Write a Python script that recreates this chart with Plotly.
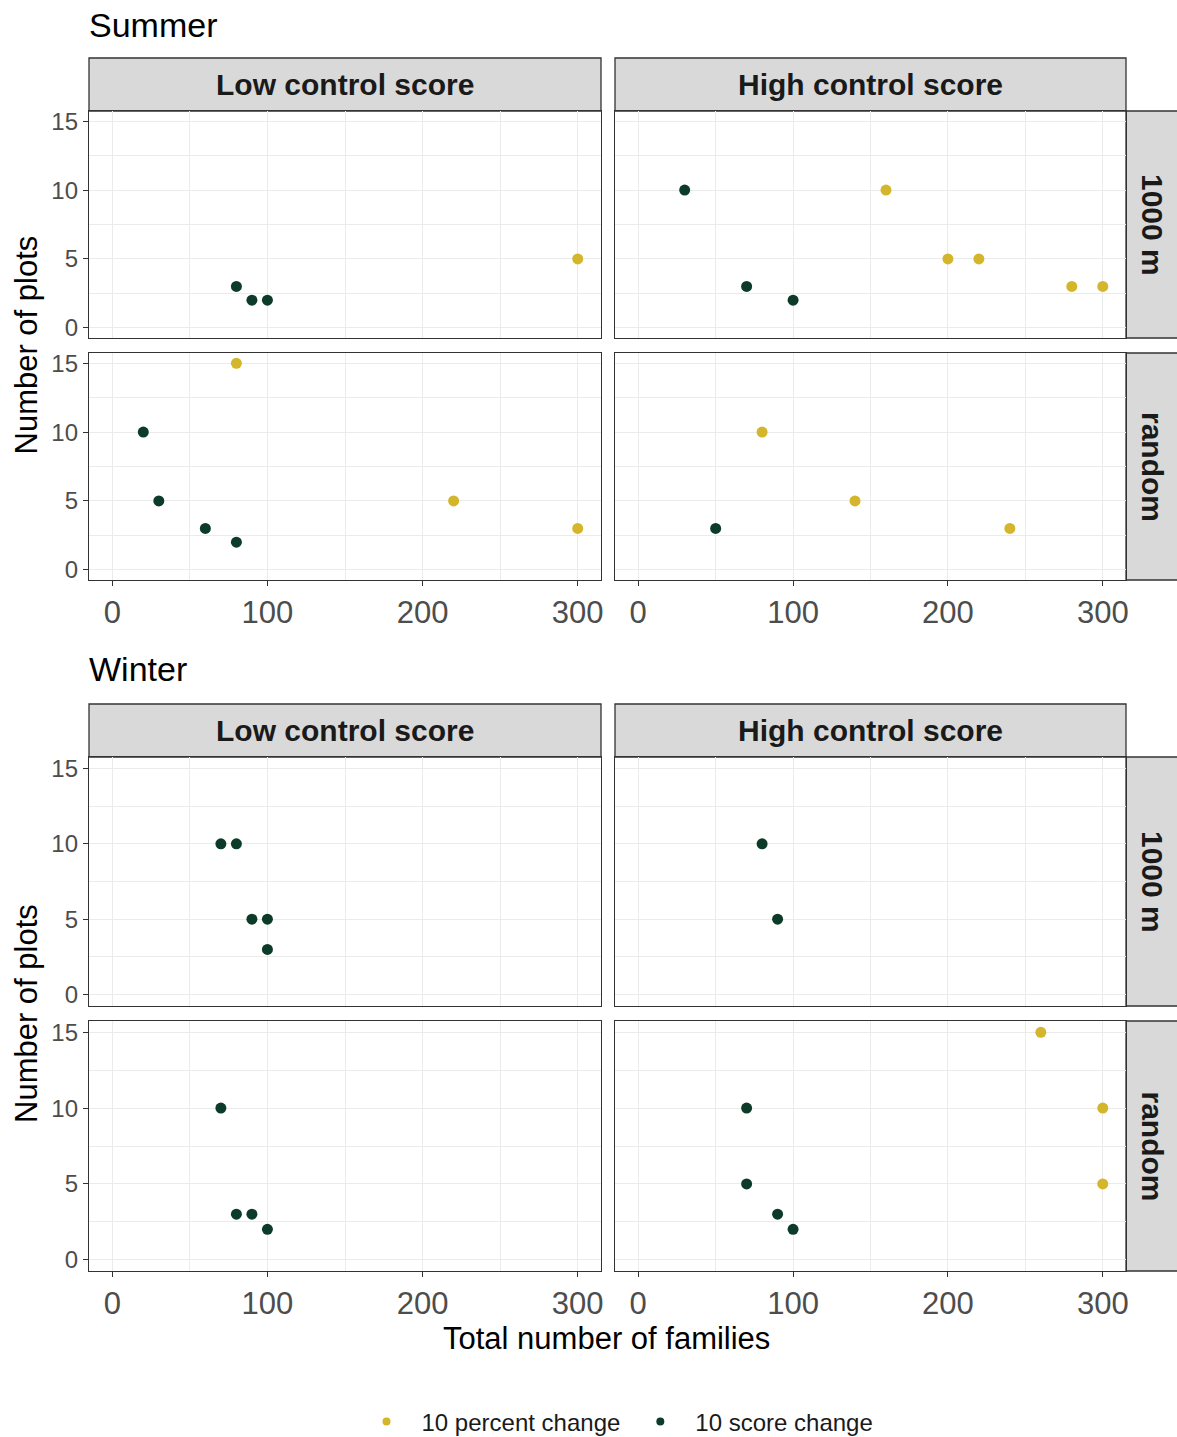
import plotly.graph_objects as go

# ---------------- data ----------------
SERIES = ["10 percent change", "10 score change"]
COLORS = {"10 percent change": "#d3b62c", "10 score change": "#0c3b29"}
SEASONS = ["Summer", "Winter"]
COL_LABELS = ["Low control score", "High control score"]
ROW_LABELS = ["1000 m", "random"]
X_TICKS = [0, 100, 200, 300]
Y_TICKS = [0, 5, 10, 15]

# Summer
S_LOW_1000_PCT_X = [300]
S_LOW_1000_PCT_Y = [5]
S_LOW_1000_SCORE_X = [80, 90, 100]
S_LOW_1000_SCORE_Y = [3, 2, 2]
S_HIGH_1000_PCT_X = [160, 200, 220, 280, 300]
S_HIGH_1000_PCT_Y = [10, 5, 5, 3, 3]
S_HIGH_1000_SCORE_X = [30, 70, 100]
S_HIGH_1000_SCORE_Y = [10, 3, 2]
S_LOW_RAND_PCT_X = [80, 220, 300]
S_LOW_RAND_PCT_Y = [15, 5, 3]
S_LOW_RAND_SCORE_X = [20, 30, 60, 80]
S_LOW_RAND_SCORE_Y = [10, 5, 3, 2]
S_HIGH_RAND_PCT_X = [80, 140, 240]
S_HIGH_RAND_PCT_Y = [10, 5, 3]
S_HIGH_RAND_SCORE_X = [50]
S_HIGH_RAND_SCORE_Y = [3]

# Winter
W_LOW_1000_PCT_X = []
W_LOW_1000_PCT_Y = []
W_LOW_1000_SCORE_X = [70, 80, 90, 100, 100]
W_LOW_1000_SCORE_Y = [10, 10, 5, 5, 3]
W_HIGH_1000_PCT_X = []
W_HIGH_1000_PCT_Y = []
W_HIGH_1000_SCORE_X = [80, 90]
W_HIGH_1000_SCORE_Y = [10, 5]
W_LOW_RAND_PCT_X = []
W_LOW_RAND_PCT_Y = []
W_LOW_RAND_SCORE_X = [70, 80, 90, 100]
W_LOW_RAND_SCORE_Y = [10, 3, 3, 2]
W_HIGH_RAND_PCT_X = [260, 300, 300]
W_HIGH_RAND_PCT_Y = [15, 10, 5]
W_HIGH_RAND_SCORE_X = [70, 70, 90, 100]
W_HIGH_RAND_SCORE_Y = [10, 5, 3, 2]

PANELS = {
    ("Summer", 0, 0): [(S_LOW_1000_PCT_X, S_LOW_1000_PCT_Y), (S_LOW_1000_SCORE_X, S_LOW_1000_SCORE_Y)],
    ("Summer", 0, 1): [(S_HIGH_1000_PCT_X, S_HIGH_1000_PCT_Y), (S_HIGH_1000_SCORE_X, S_HIGH_1000_SCORE_Y)],
    ("Summer", 1, 0): [(S_LOW_RAND_PCT_X, S_LOW_RAND_PCT_Y), (S_LOW_RAND_SCORE_X, S_LOW_RAND_SCORE_Y)],
    ("Summer", 1, 1): [(S_HIGH_RAND_PCT_X, S_HIGH_RAND_PCT_Y), (S_HIGH_RAND_SCORE_X, S_HIGH_RAND_SCORE_Y)],
    ("Winter", 0, 0): [(W_LOW_1000_PCT_X, W_LOW_1000_PCT_Y), (W_LOW_1000_SCORE_X, W_LOW_1000_SCORE_Y)],
    ("Winter", 0, 1): [(W_HIGH_1000_PCT_X, W_HIGH_1000_PCT_Y), (W_HIGH_1000_SCORE_X, W_HIGH_1000_SCORE_Y)],
    ("Winter", 1, 0): [(W_LOW_RAND_PCT_X, W_LOW_RAND_PCT_Y), (W_LOW_RAND_SCORE_X, W_LOW_RAND_SCORE_Y)],
    ("Winter", 1, 1): [(W_HIGH_RAND_PCT_X, W_HIGH_RAND_PCT_Y), (W_HIGH_RAND_SCORE_X, W_HIGH_RAND_SCORE_Y)],
}

# ---------------- layout geometry (pixels) ----------------
W, H = 1177, 1437
COL_X = [(89, 601), (615, 1126)]
STRIP_R = (1126, 1177)
BLOCKS = {
    "Summer": {"title_y": 25, "strip": (58, 111), "rows": [(111, 338), (353, 580)]},
    "Winter": {"title_y": 669, "strip": (704, 757), "rows": [(757, 1006), (1021, 1271)]},
}
FONT = "Liberation Sans, Arial, sans-serif"
BORDER = "#333333"
GRID = "#ebebeb"
STRIP_FILL = "#d9d9d9"


def px(x):
    return x / W


def py(y):
    return 1 - y / H


fig = go.Figure()
layout = dict(
    width=W, height=H, autosize=False,
    margin=dict(l=0, r=0, t=0, b=0, autoexpand=False),
    paper_bgcolor="white", plot_bgcolor="white",
    font=dict(family=FONT),
    showlegend=True,
)
shapes = []
annotations = []

idx = 0
for season in SEASONS:
    blk = BLOCKS[season]
    for r in range(2):
        for c in range(2):
            idx += 1
            xa = "xaxis" if idx == 1 else f"xaxis{idx}"
            ya = "yaxis" if idx == 1 else f"yaxis{idx}"
            xr = "x" if idx == 1 else f"x{idx}"
            yr = "y" if idx == 1 else f"y{idx}"
            x0, x1 = COL_X[c]
            y0, y1 = blk["rows"][r]
            bottom = r == 1
            left = c == 0
            layout[xa] = dict(
                domain=[px(x0), px(x1)], anchor=yr, range=[-15, 315],
                tickvals=X_TICKS, ticktext=[str(v) for v in X_TICKS],
                showticklabels=bottom, ticks="outside" if bottom else "",
                ticklen=5, tickwidth=1.2, tickcolor=BORDER,
                tickfont=dict(size=31, color="#4d4d4d", family=FONT),
                showgrid=True, gridcolor=GRID, gridwidth=1.2,
                minor=dict(tickvals=[50, 150, 250], showgrid=True, gridcolor=GRID, gridwidth=0.6),
                showline=True, mirror=True, linecolor=BORDER, linewidth=1.3,
                zeroline=False, fixedrange=True, automargin=False,
            )
            layout[ya] = dict(
                domain=[py(y1), py(y0)], anchor=xr, range=[-0.75, 15.75],
                tickvals=Y_TICKS, ticktext=[str(v) for v in Y_TICKS],
                showticklabels=left, ticks="outside" if left else "",
                ticklen=5, tickwidth=1.2, tickcolor=BORDER,
                tickfont=dict(size=24, color="#4d4d4d", family=FONT),
                showgrid=True, gridcolor=GRID, gridwidth=1.2,
                minor=dict(tickvals=[2.5, 7.5, 12.5], showgrid=True, gridcolor=GRID, gridwidth=0.6),
                showline=True, mirror=True, linecolor=BORDER, linewidth=1.3,
                zeroline=False, fixedrange=True, automargin=False,
            )
            for name, (xs, ys) in zip(SERIES, PANELS[(season, r, c)]):
                fig.add_trace(go.Scatter(
                    x=xs, y=ys, mode="markers", xaxis=xr, yaxis=yr,
                    marker=dict(size=11, color=COLORS[name]),
                    name=name, showlegend=False, hoverinfo="x+y",
                ))
    # column strips
    s0, s1 = blk["strip"]
    for c, lab in enumerate(COL_LABELS):
        x0, x1 = COL_X[c]
        shapes.append(dict(type="rect", xref="paper", yref="paper",
                           x0=px(x0), x1=px(x1), y0=py(s1), y1=py(s0),
                           fillcolor=STRIP_FILL, line=dict(color=BORDER, width=1.3), layer="below"))
        annotations.append(dict(text=f"<b>{lab}</b>", xref="paper", yref="paper",
                                x=px((x0 + x1) / 2), y=py((s0 + s1) / 2),
                                xanchor="center", yanchor="middle", showarrow=False,
                                font=dict(size=30, color="#1a1a1a", family=FONT)))
    # row strips
    for r, lab in enumerate(ROW_LABELS):
        y0, y1 = blk["rows"][r]
        shapes.append(dict(type="rect", xref="paper", yref="paper",
                           x0=px(STRIP_R[0]), x1=px(STRIP_R[1]) + 0.01, y0=py(y1), y1=py(y0),
                           fillcolor=STRIP_FILL, line=dict(color=BORDER, width=1.3), layer="below"))
        annotations.append(dict(text=f"<b>{lab}</b>", xref="paper", yref="paper",
                                x=px((STRIP_R[0] + STRIP_R[1]) / 2 + 1), y=py((y0 + y1) / 2),
                                xanchor="center", yanchor="middle", showarrow=False, textangle=90,
                                font=dict(size=30, color="#1a1a1a", family=FONT)))
    # season title
    annotations.append(dict(text=season, xref="paper", yref="paper",
                            x=px(87), y=py(blk["title_y"]), xanchor="left", yanchor="middle",
                            showarrow=False, font=dict(size=34, color="black", family=FONT)))
    # y title
    rows = blk["rows"]
    annotations.append(dict(text="Number of plots", xref="paper", yref="paper",
                            x=px(26), y=py((rows[0][0] + rows[1][1]) / 2),
                            xanchor="center", yanchor="middle", showarrow=False, textangle=-90,
                            font=dict(size=31, color="black", family=FONT)))

# x title
annotations.append(dict(text="Total number of families", xref="paper", yref="paper",
                        x=px(606), y=py(1338), xanchor="center", yanchor="middle",
                        showarrow=False, font=dict(size=31, color="black", family=FONT)))

# legend entries
for name in SERIES:
    fig.add_trace(go.Scatter(x=[None], y=[None], mode="markers", name=name,
                             marker=dict(size=8, color=COLORS[name]), showlegend=True))

layout["legend"] = dict(orientation="h", x=px(615), y=py(1422), xanchor="center", yanchor="middle",
                        font=dict(size=24, color="#1a1a1a", family=FONT),
                        bgcolor="rgba(0,0,0,0)", itemsizing="trace", itemwidth=60)
layout["shapes"] = shapes
layout["annotations"] = annotations
fig.update_layout(**layout)

fig.write_html("out.html")
